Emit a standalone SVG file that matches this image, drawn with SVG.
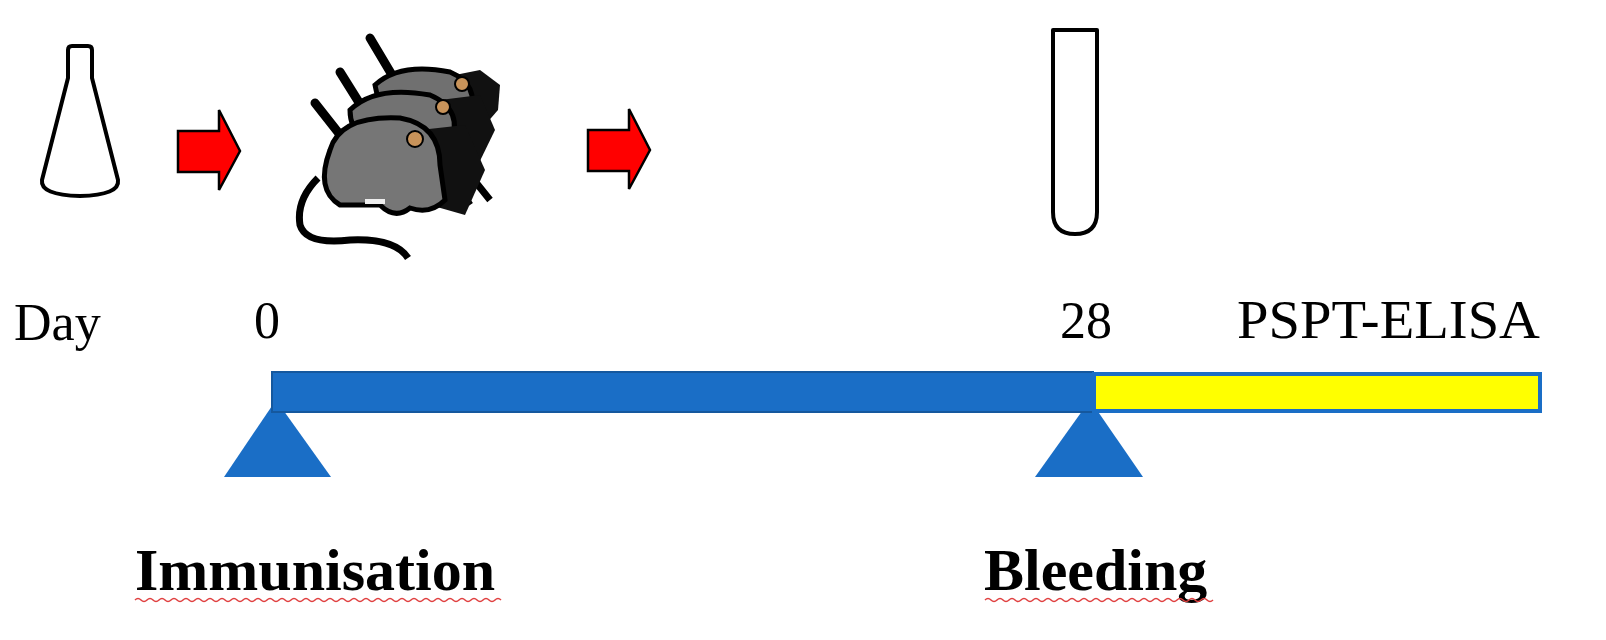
<svg xmlns="http://www.w3.org/2000/svg" width="1606" height="640" viewBox="0 0 1606 640">
<style>
.t{font-family:"Liberation Serif",serif;fill:#000}
.ol{fill:none;stroke:#000;stroke-width:4;stroke-linejoin:round}
.arr{fill:#f00;stroke:#000;stroke-width:2.5}
.tri{fill:#1a6ec6}
.sq{fill:none;stroke:#e04040;stroke-width:1.5}
.body{stroke:#000;stroke-width:5}
</style>
<rect width="1606" height="640" fill="#fff"/>
<g id="flask"><path class="ol" d="M68,50 Q68,46 72,46 L88,46 Q92,46 92,50 L92,78 L118,180 Q120,195 80,196 Q40,195 42,180 L68,78 Z"/></g>
<g id="mice">
<g stroke="#000" stroke-width="9" stroke-linecap="round"><line x1="370" y1="38" x2="395" y2="80"/><line x1="340" y1="72" x2="365" y2="112"/><line x1="315" y1="103" x2="352" y2="150"/></g>
<path d="M318,178 Q296,200 300,225 Q306,245 350,240 Q395,238 408,258" fill="none" stroke="#000" stroke-width="7"/>
<path d="M440,160 L470,205 M470,175 L490,200" stroke="#000" stroke-width="7" fill="none"/>
<path d="M455,75 L480,70 L500,85 L498,110 L485,125 L470,110 Z" fill="#111"/>
<path class="body" fill="#707070" d="M375,85 Q400,62 450,72 Q480,85 470,115 L420,125 Q380,120 375,85 Z"/>
<path d="M440,100 L480,95 L495,130 L478,165 L455,150 Z" fill="#111"/>
<path class="body" fill="#727272" d="M350,110 Q375,85 430,95 Q465,110 450,145 L400,155 Q350,145 350,110 Z"/>
<path d="M420,130 L465,125 L485,170 L465,215 L430,205 Z" fill="#111"/>
<path class="body" fill="#767676" d="M330,150 Q340,115 400,118 Q440,125 440,165 L445,200 Q430,215 410,208 Q395,220 380,205 L340,205 Q315,190 330,150 Z"/>
<circle cx="462" cy="84" r="7" fill="#c8935a" stroke="#000" stroke-width="2"/>
<circle cx="443" cy="107" r="7" fill="#c8935a" stroke="#000" stroke-width="2"/>
<circle cx="415" cy="139" r="8" fill="#c8935a" stroke="#000" stroke-width="2"/>
<rect x="365" y="199" width="20" height="5" fill="#eee"/>
</g>
<g id="arrows">
<path class="arr" d="M178,131 L219,131 L219,110 L240,151 L219,190 L219,172 L178,172 Z"/>
<path class="arr" d="M588,130 L629,130 L629,109 L650,150 L629,189 L629,171 L588,171 Z"/>
</g>
<g id="tube"><path class="ol" d="M1053,30 L1097,30 L1097,212 Q1097,234 1075,234 Q1053,234 1053,212 Z"/></g>
<g id="labels">
<text class="t" x="14" y="340" font-size="52">Day</text>
<text class="t" x="254" y="338" font-size="52">0</text>
<text class="t" x="1060" y="338" font-size="52">28</text>
<text class="t" x="1237" y="338" font-size="54" textLength="303" lengthAdjust="spacingAndGlyphs">PSPT-ELISA</text>
<text class="t" x="135" y="590" font-size="60" font-weight="bold">Immunisation</text>
<text class="t" x="984" y="590" font-size="60" font-weight="bold">Bleeding</text>
<path class="sq" d="M135,600 q3,-3 6,0 t6,0 t6,0 t6,0 t6,0 t6,0 t6,0 t6,0 t6,0 t6,0 t6,0 t6,0 t6,0 t6,0 t6,0 t6,0 t6,0 t6,0 t6,0 t6,0 t6,0 t6,0 t6,0 t6,0 t6,0 t6,0 t6,0 t6,0 t6,0 t6,0 t6,0 t6,0 t6,0 t6,0 t6,0 t6,0 t6,0 t6,0 t6,0 t6,0 t6,0 t6,0 t6,0 t6,0 t6,0 t6,0 t6,0 t6,0 t6,0 t6,0 t6,0 t6,0 t6,0 t6,0 t6,0 t6,0 t6,0 t6,0 t6,0 t6,0 t6,0"/>
<path class="sq" d="M985,600 q3,-3 6,0 t6,0 t6,0 t6,0 t6,0 t6,0 t6,0 t6,0 t6,0 t6,0 t6,0 t6,0 t6,0 t6,0 t6,0 t6,0 t6,0 t6,0 t6,0 t6,0 t6,0 t6,0 t6,0 t6,0 t6,0 t6,0 t6,0 t6,0 t6,0 t6,0 t6,0 t6,0 t6,0 t6,0 t6,0 t6,0 t6,0 t6,0"/>
</g>
<g id="timeline">
<polygon class="tri" points="276,400 331,477 224,477"/>
<polygon class="tri" points="1090,400 1143,477 1035,477"/>
<rect x="272" y="372" width="821" height="40" fill="#1a6ec6" stroke="#15589e" stroke-width="2"/>
<rect x="1094" y="374" width="446" height="37" fill="#ffff00" stroke="#1a6ec6" stroke-width="4"/>
</g>
</svg>
